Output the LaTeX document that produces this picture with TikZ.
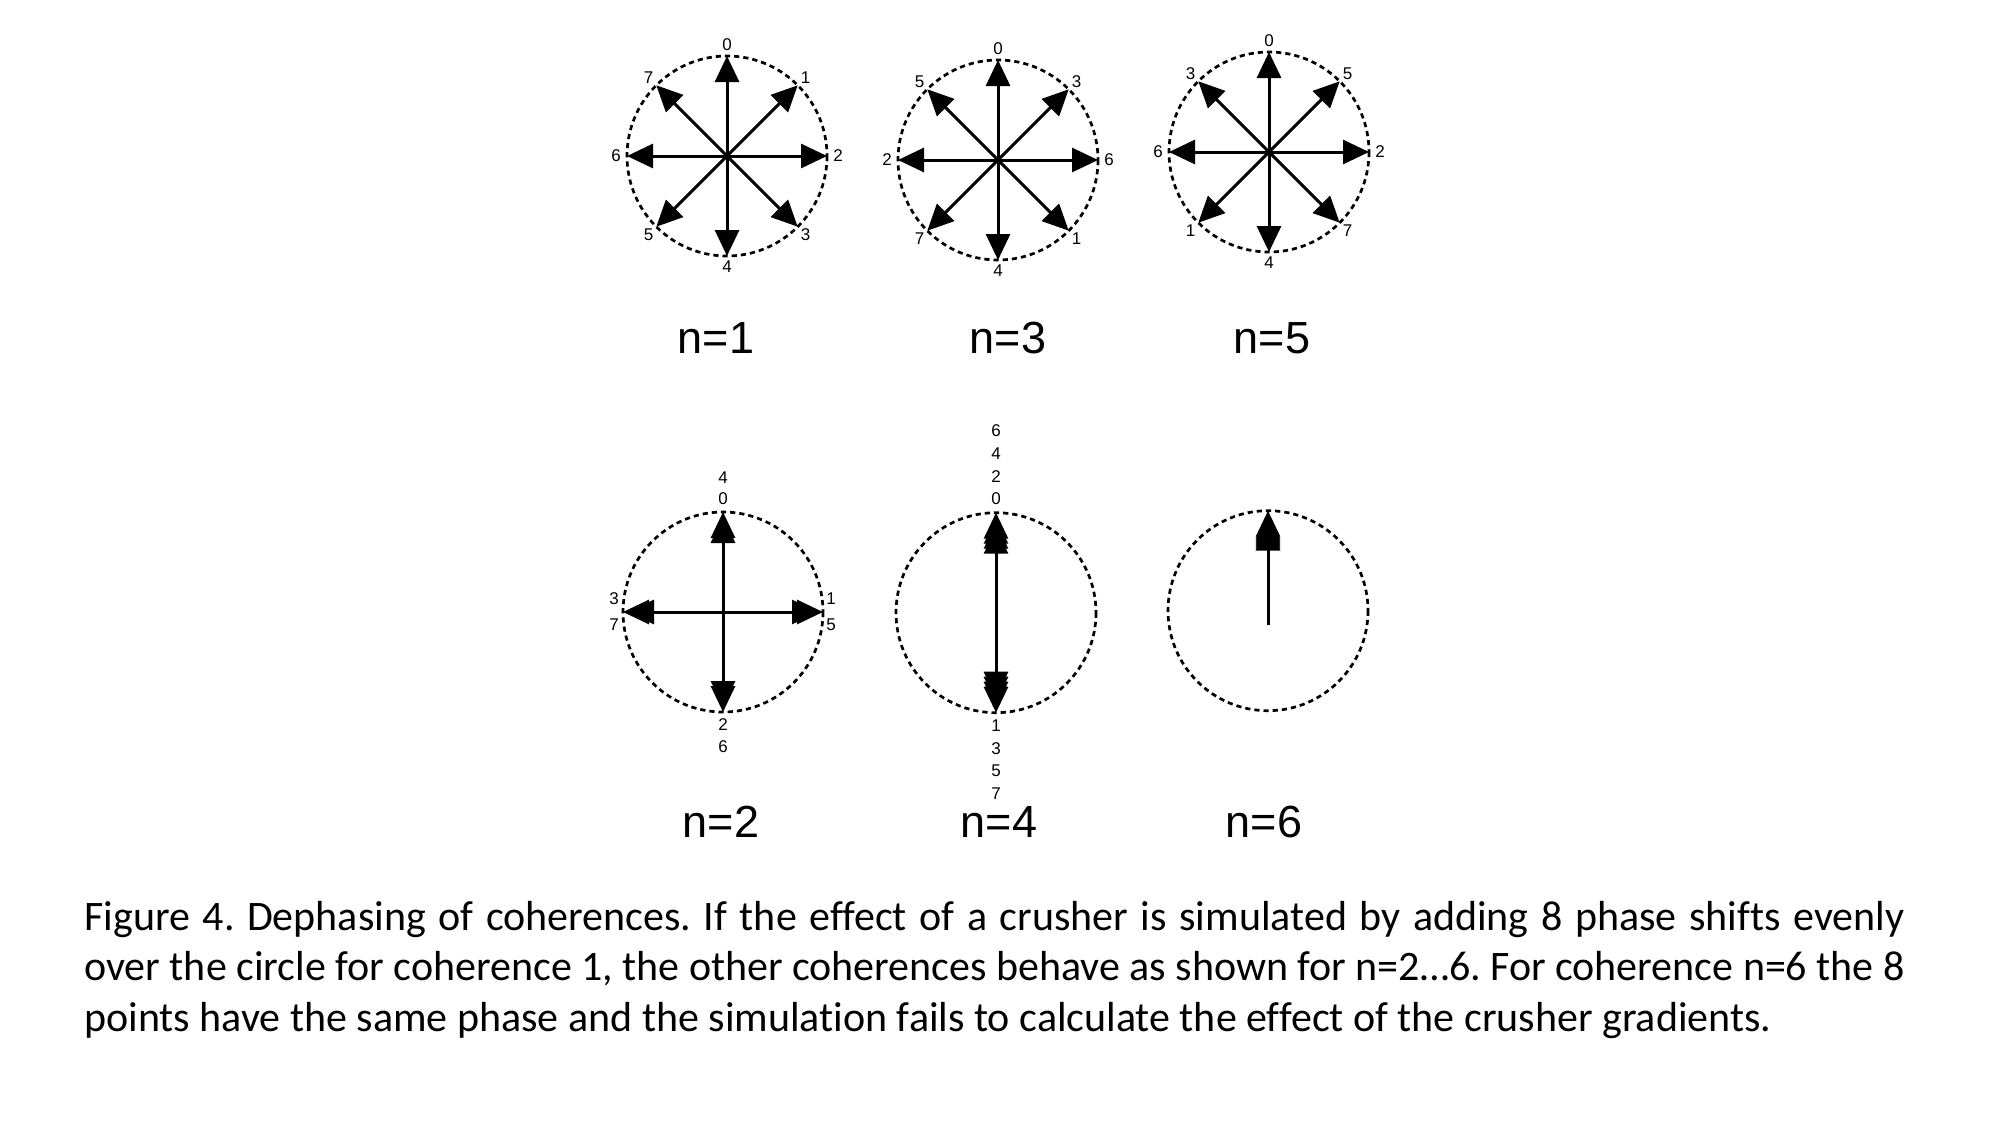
\documentclass[tikz,border=0pt]{standalone}
\usepackage{fontspec}
\setmainfont{Liberation Sans}
\newfontfamily\capfont[Ligatures={NoCommon}]{Carlito}
\usetikzlibrary{arrows.meta}
\frenchspacing
\begin{document}
\begin{tikzpicture}[x=0.5pt,y=-0.5pt,
  vec/.style={line width=1.5pt,-{Triangle[length=13pt,width=12pt]}},
  ring/.style={line width=1.35pt,dash pattern=on 2.6pt off 2pt},
  lbl/.style={font=\fontsize{8.5}{9}\selectfont, inner sep=0pt},
  ttl/.style={font=\fontsize{22.5}{26}\selectfont, anchor=base, inner sep=0pt},
  captext/.style={font=\capfont\fontsize{21}{25}\selectfont, anchor=base west, inner sep=0pt}]
\path[use as bounding box] (0,0) rectangle (2000,1125);

% top row: n=1,3,5
\foreach \n/\cx/\cy/\tx in {1/727/156/716, 3/998/160/1008, 5/1269/152/1272} {
  \coordinate (c\n) at (\cx,\cy);
  \draw[ring] (c\n) circle[radius=100];
  \foreach \k in {0,...,7} {
    \pgfmathsetmacro\ang{\k*\n*45}
    \coordinate (t\n-\k) at ({\cx+100*sin(\ang)},{\cy-100*cos(\ang)});
    \draw[vec] (c\n) -- (t\n-\k);
    \node[lbl] (l\n-\k) at ({\cx+111*sin(\ang)},{\cy-111*cos(\ang)}) {\k};
  }
  \node[ttl] (title\n) at (\tx,353) {n=\n};
}

% n=2
\coordinate (c2) at (723,612);
\draw[ring] (c2) circle[radius=100];
\foreach \d/\dx/\dy in {N/0/-100, E/100/0, S/0/100, W/-100/0} {
  \coordinate (t2\d) at ({723+\dx},{612+\dy});
  \draw[vec] (c2) -- (t2\d);
  \draw[vec,shorten >=2.5pt] (c2) -- (t2\d);
}
\node[lbl] (l2-4) at (723,478) {4};
\node[lbl] (l2-0) at (723,499) {0};
\node[lbl] (l2-1) at (831,599) {1};
\node[lbl] (l2-5) at (831,625) {5};
\node[lbl] (l2-3) at (614,599) {3};
\node[lbl] (l2-7) at (614,625) {7};
\node[lbl] (l2-2) at (723,725) {2};
\node[lbl] (l2-6) at (723,747) {6};
\node[ttl] (title2) at (721,837) {n=2};

% n=4
\coordinate (c4) at (996,612.7);
\draw[ring] (c4) circle[radius=100];
\coordinate (t4N) at (996,512.7);
\coordinate (t4S) at (996,712.7);
\foreach \s in {0,2.5,5,7.5} {
  \draw[vec,shorten >=\s pt] (c4) -- (t4N);
  \draw[vec,shorten >=\s pt] (c4) -- (t4S);
}
\foreach \k/\y in {0/499, 2/476.3, 4/453.6, 6/430.9, 1/725.5, 3/748.2, 5/770.9, 7/793.6} {
  \node[lbl] (l4-\k) at (996,\y) {\k};
}
\node[ttl] (title4) at (999,837) {n=4};

% n=6
\coordinate (c6) at (1268,610.7);
\coordinate (s6) at (1268,625);
\draw[ring] (c6) circle[radius=100];
\coordinate (t6N) at (1268,510.7);
\foreach \s in {0,1,...,7} {
  \draw[vec,shorten >=\s pt] (s6) -- (t6N);
}
\node[ttl] (title6) at (1264,837) {n=6};

% caption
\node[captext] (cap1) at (84,930) {\makebox[910pt][s]{Figure 4. Dephasing of coherences. If the effect of a crusher is simulated by adding 8 phase shifts evenly}};
\node[captext] (cap2) at (84,980) {\makebox[910pt][s]{over the circle for coherence 1, the other coherences behave as shown for n=2…6. For coherence n=6 the 8}};
\node[captext] (cap3) at (84,1031) {points have the same phase and the simulation fails to calculate the effect of the crusher gradients.};
\end{tikzpicture}
\end{document}
